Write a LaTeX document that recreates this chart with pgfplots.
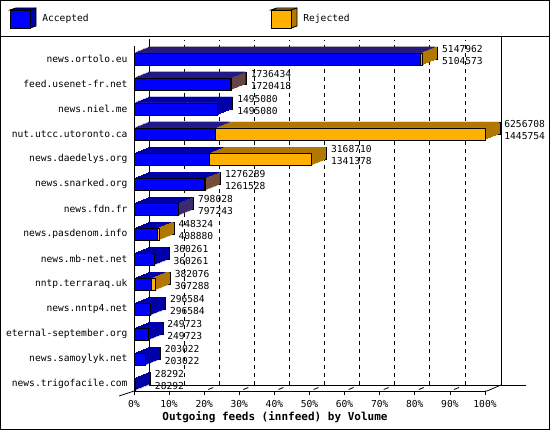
\documentclass[border=0pt]{standalone}
\usepackage{fontspec}
\setmainfont{DejaVu Sans Mono}
\usepackage{pgfplots}
\usepackage{pgfplotstable}
\pgfplotsset{compat=1.18}

\definecolor{acc}{RGB}{0,0,255}
\definecolor{accdark}{RGB}{0,0,168}
\definecolor{rej}{RGB}{255,176,0}
\definecolor{rejdark}{RGB}{176,120,0}

% y = row (0 = bottom), total = offered, acc = accepted
\pgfplotstableread{
y  total   acc
13 5147962 5104573
12 1736434 1720418
11 1495080 1495080
10 6256708 1445754
9  3168710 1341378
8  1276289 1261528
7  798028  797243
6  448324  408880
5  360261  360261
4  382076  307288
3  296584  296584
2  249723  249723
1  203022  203022
0  28292   28292
}\feeds

\newcommand{\lbl}{\fontsize{9.6bp}{11bp}\selectfont}
% percent of the largest feed
\newcommand{\pct}[1]{\thisrow{#1}/62567.08}
% orange only where something was rejected
\newcommand{\rejx}{\thisrow{total}>\thisrow{acc} ? \thisrow{total}/62567.08 : 0}

\begin{document}
\begin{tikzpicture}[x=1bp,y=1bp,line width=0.8bp]
\useasboundingbox (0,0) rectangle (550,430);
\draw (0.5,0.5) rectangle (549.5,429.5);
\draw (0,394) -- (550,394);

% legend
\fill[accdark,draw=black] (10,420) -- (16,422) -- (36,422) -- (36,404) -- (30,402) -- (30,420) -- cycle;
\draw (30,420) -- (36,422);
\filldraw[fill=acc] (10,402) rectangle (30,420);
\node[anchor=west,inner sep=0pt,font=\lbl] at (42,411) {Accepted};
\fill[rejdark,draw=black] (271,420) -- (277,422) -- (297,422) -- (297,404) -- (291,402) -- (291,420) -- cycle;
\draw (291,420) -- (297,422);
\filldraw[fill=rej] (271,402) rectangle (291,420);
\node[anchor=west,inner sep=0pt,font=\lbl] at (303,411) {Rejected};

% back wall and floor
\draw (149,45) -- (149,391);
\draw (501,45) -- (501,394);
\draw (149,45) -- (526,45);
\foreach \p in {1,...,9}
  \draw[dash pattern=on 4bp off 4bp] ({149+35.1*\p},45) -- ({149+35.1*\p},390);
\draw (485,39) -- (487,39) -- (501,45);
\draw (119,34) -- (134,39);
\foreach \p in {2,...,9}
  \draw ({134+35.1*\p+4},40.5) -- ({134+35.1*\p+9},42.5);

\begin{axis}[
    at={(134bp,39bp)}, anchor=south west,
    scale only axis, width=351bp, height=345bp,
    xmin=0, xmax=100, ymin=-0.28, ymax=13.52,
    clip=false,
    axis x line*=bottom, axis y line*=left,
    axis line style={-, line width=0.8bp},
    xbar, bar width=12bp,
    every axis plot/.append style={bar shift=0pt, line width=0.8bp},
    xtick={0,10,...,100},
    xticklabels={0\%,10\%,20\%,30\%,40\%,50\%,60\%,70\%,80\%,90\%,100\%},
    tick align=outside, major tick length=4bp,
    x tick style={line width=0.8bp,black},
    ytick={0,...,13},
    yticklabels={news.trigofacile.com,news.samoylyk.net,eternal-september.org,
      news.nntp4.net,nntp.terraraq.uk,news.mb-net.net,news.pasdenom.info,
      news.fdn.fr,news.snarked.org,news.daedelys.org,nut.utcc.utoronto.ca,
      news.niel.me,feed.usenet-fr.net,news.ortolo.eu},
    y tick style={draw=none},
    tick label style={font=\lbl},
    yticklabel style={xshift=1bp},
    xticklabel style={yshift=-1.5bp},
    xlabel={\textbf{Outgoing feeds (innfeed) by Volume}},
    xlabel style={at={(axis description cs:0.4017,0)}, anchor=center,
      yshift=-26bp, font=\fontsize{11bp}{13bp}\selectfont},
]

% extruded depth of each bar, back to front
\addplot[fill=rejdark, draw=black, xshift=15bp, yshift=6bp] table[x expr=\rejx,y=y]{\feeds};
\addplot[fill=accdark, draw=black, xshift=15bp, yshift=6bp] table[x expr=\pct{acc},y=y]{\feeds};
\pgfplotsinvokeforeach{14,13,...,1}{
  \addplot[fill=rejdark, draw=none, xshift=#1bp, yshift={round(0.4*#1)*1bp}] table[x expr=\rejx,y=y]{\feeds};
  \addplot[fill=accdark, draw=none, xshift=#1bp, yshift={round(0.4*#1)*1bp}] table[x expr=\pct{acc},y=y]{\feeds};
}

% front faces
\addplot[fill=rej, draw=black] table[x expr=\pct{total},y=y]{\feeds};
\addplot[fill=acc, draw=black] table[x expr=\pct{acc},y=y]{\feeds};

% value labels: total above, accepted below
\addplot[draw=none, fill=none, point meta=explicit symbolic, nodes near coords,
  every node near coord/.style={anchor=west, xshift=19bp, yshift=10bp,
    inner sep=0pt, font=\lbl}]
  table[x expr=\pct{total},y=y,meta=total]{\feeds};
\addplot[draw=none, fill=none, point meta=explicit symbolic, nodes near coords,
  every node near coord/.style={anchor=west, xshift=19bp, yshift=-2bp,
    inner sep=0pt, font=\lbl}]
  table[x expr=\pct{total},y=y,meta=acc]{\feeds};
\end{axis}
\end{tikzpicture}
\end{document}
